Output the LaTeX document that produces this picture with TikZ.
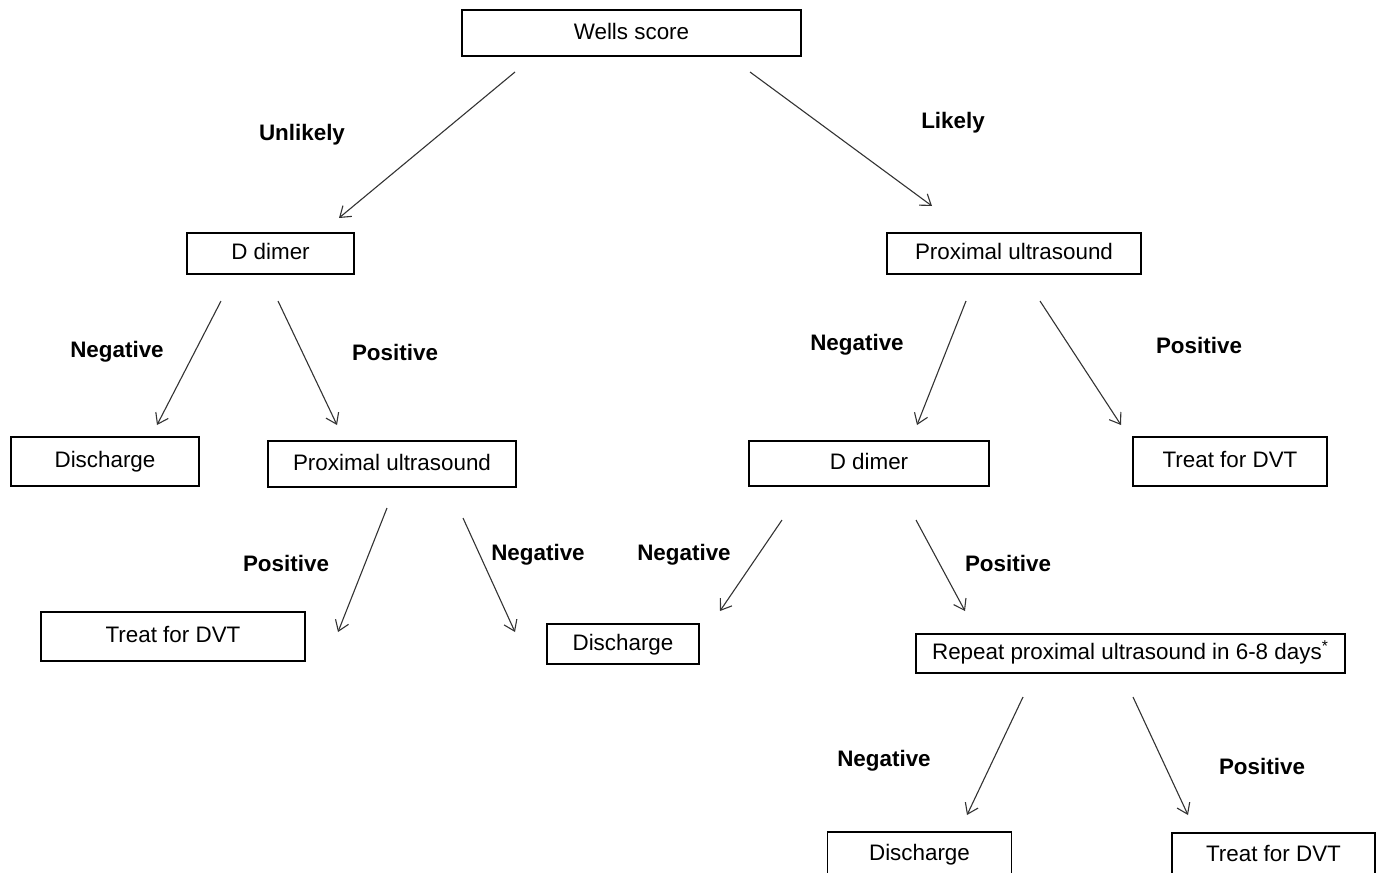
\documentclass[tikz,border=0pt]{standalone}
\usepackage{fontspec}
\setmainfont{Liberation Sans}
\usetikzlibrary{arrows.meta}

\begin{document}
\begin{tikzpicture}[
  x=0.5pt, y=-0.5pt,
  font=\fontsize{11.2}{13}\selectfont,
  box/.style={draw, line width=0.8pt, inner sep=0pt, text height=1.55ex, text depth=0.35ex, align=center},
  lbl/.style={font=\fontsize{11.2}{13}\selectfont\bfseries},
  arrow/.style={-{Straight Barb[length=5pt, width=7pt]}, line width=0.55pt, black!80}
]
\useasboundingbox (0,0) rectangle (1378,873);
\clip (0,0) rectangle (1378,873);

% boxes
\node[box, minimum width=169.5pt, minimum height=23pt]   (wells) at (631.5,33)   {Wells score};
\node[box, minimum width=83.5pt,  minimum height=20.5pt] (dd1)   at (270.5,253.5) {D dimer};
\node[box, minimum width=127pt,   minimum height=20.5pt] (us1)   at (1014,253.5)  {Proximal ultrasound};
\node[box, minimum width=94pt,    minimum height=24.5pt] (dis1)  at (105,461.5)   {Discharge};
\node[box, minimum width=124pt,   minimum height=23pt]   (us2)   at (392,464)     {Proximal ultrasound};
\node[box, minimum width=120pt,   minimum height=22.5pt] (dd2)   at (869,463.5)   {D dimer};
\node[box, minimum width=97pt,    minimum height=24.5pt] (dvt1)  at (1230,461.5)  {Treat for DVT};
\node[box, minimum width=132pt,   minimum height=24.5pt] (dvt2)  at (173,636.5)   {Treat for DVT};
\node[box, minimum width=76pt,    minimum height=20pt]   (dis2)  at (623,644)     {Discharge};
\node[box, minimum width=214.5pt, minimum height=19.5pt] (rep)   at (1130.5,653.5) {Repeat proximal ultrasound in 6-8 days\textsuperscript{*}};
\node[box, minimum width=92pt,    minimum height=22pt]   (dis3)  at (919.5,854)   {Discharge};
\node[box, minimum width=101.5pt, minimum height=22pt]   (dvt3)  at (1273.5,855)  {Treat for DVT};

% labels
\node[lbl] (lunl)  at (302,135) {Unlikely};
\node[lbl] (llik)  at (953,123) {Likely};
\node[lbl] (lneg1) at (117,352) {Negative};
\node[lbl] (lpos1) at (395,352) {Positive};
\node[lbl] (lneg2) at (857,345) {Negative};
\node[lbl] (lpos2) at (1199,345) {Positive};
\node[lbl] (lpos3) at (286,563) {Positive};
\node[lbl] (lneg3) at (538,555) {Negative};
\node[lbl] (lneg4) at (684,555) {Negative};
\node[lbl] (lpos4) at (1008,563) {Positive};
\node[lbl] (lneg5) at (884,761) {Negative};
\node[lbl] (lpos5) at (1262,766) {Positive};

% arrow ends
\coordinate (a1) at (515,72);   \coordinate (b1) at (339,218);
\coordinate (a2) at (750,72);   \coordinate (b2) at (932,206);
\coordinate (a3) at (221,301);  \coordinate (b3) at (157,425);
\coordinate (a4) at (278,301);  \coordinate (b4) at (337,425);
\coordinate (a5) at (966,301);  \coordinate (b5) at (917,425);
\coordinate (a6) at (1040,301); \coordinate (b6) at (1121,425);
\coordinate (a7) at (387,508);  \coordinate (b7) at (338,632);
\coordinate (a8) at (463,518);  \coordinate (b8) at (515,632);
\coordinate (a9) at (782,520);  \coordinate (b9) at (720,611);
\coordinate (a10) at (916,520); \coordinate (b10) at (965,611);
\coordinate (a11) at (1023,697); \coordinate (b11) at (967,815);
\coordinate (a12) at (1133,697); \coordinate (b12) at (1188,815);

\draw[arrow] (a1) -- (b1);
\draw[arrow] (a2) -- (b2);
\draw[arrow] (a3) -- (b3);
\draw[arrow] (a4) -- (b4);
\draw[arrow] (a5) -- (b5);
\draw[arrow] (a6) -- (b6);
\draw[arrow] (a7) -- (b7);
\draw[arrow] (a8) -- (b8);
\draw[arrow] (a9) -- (b9);
\draw[arrow] (a10) -- (b10);
\draw[arrow] (a11) -- (b11);
\draw[arrow] (a12) -- (b12);
\end{tikzpicture}
\end{document}
